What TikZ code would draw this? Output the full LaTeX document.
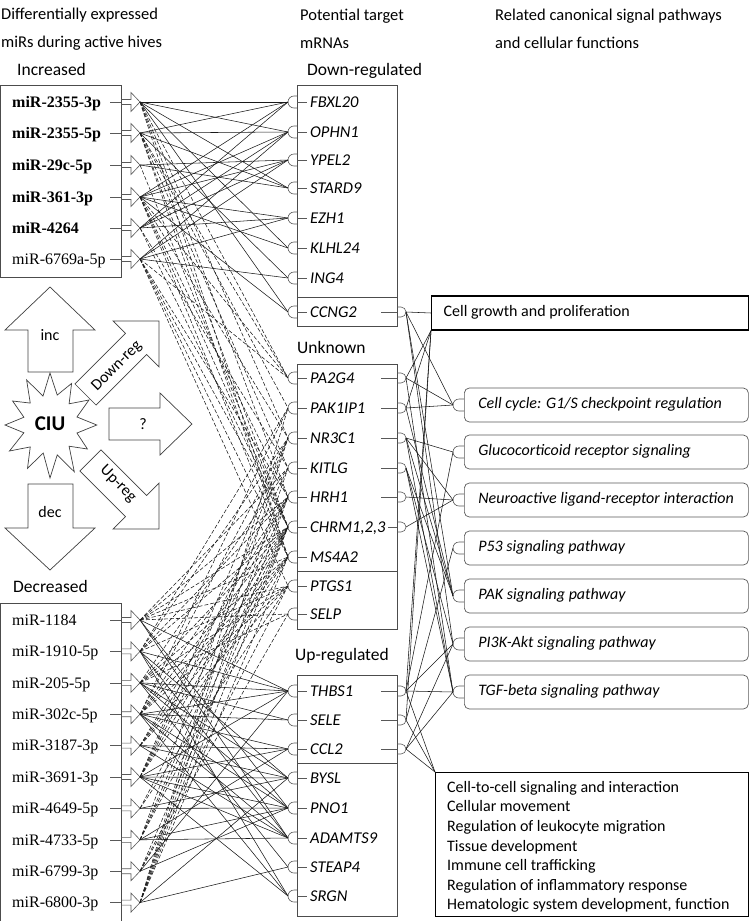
\documentclass[tikz,border=0pt]{standalone}
\usepackage{fontspec}
\setmainfont{Carlito}
\newfontfamily\mirfont{Liberation Serif}
\begin{document}
\begin{tikzpicture}[x=1pt, y=-1pt,
    hdr/.style={anchor=west, align=left, inner sep=0pt, font=\fontsize{16.5}{28}\selectfont},
    grouptxt/.style={anchor=west, inner sep=0pt, text height=11pt, text depth=0pt, font=\fontsize{17.5}{20}\selectfont},
    mir/.style={anchor=west, inner sep=0pt, text height=10.6pt, text depth=0pt, font=\mirfont\fontsize{16}{19}\selectfont},
    gene/.style={anchor=west, inner sep=0pt, text height=10.3pt, text depth=0pt, font=\fontsize{16.5}{19}\selectfont\itshape},
    listbox/.style={draw=black!70, line width=0.7pt},
    stub/.style={draw=black!65, line width=0.6pt},
    plug/.style={draw=black!65, line width=0.6pt},
    link/.style={draw=black!90, line width=0.55pt},
    dlink/.style={link, dash pattern=on 4pt off 2pt},
    pathbox/.style={draw=black!65, line width=0.7pt, rounded corners=5pt, anchor=west,
      minimum width=284, minimum height=34, inner xsep=14pt, text height=10.3pt, text depth=3pt,
      font=\fontsize{16}{19}\selectfont\itshape},
    growbox/.style={draw=black, line width=1.4pt, anchor=west, minimum width=317, minimum height=34,
      inner xsep=12pt, text height=10.3pt, text depth=3pt, font=\fontsize{16}{19}\selectfont},
    funcbox/.style={draw=black, line width=1.4pt, anchor=north west, minimum width=313, minimum height=144},
    functxt/.style={anchor=north west, align=left, inner sep=0pt, font=\fontsize{16}{19.6}\selectfont},
    bigarrow/.style={draw=black!75, line width=0.7pt, line join=miter},
    arrowtxt/.style={inner sep=0pt, font=\fontsize{16}{19}\selectfont}]
\useasboundingbox (0,0) rectangle (750,921);

% column headers
\node[hdr] (h-mir) at (1,29) {Differentially expressed\\miRs during active hives};
\node[hdr] (h-mrna) at (300,29) {Potential target\\mRNAs};
\node[hdr] (h-path) at (495,29) {Related canonical signal pathways\\and cellular functions};

% miR lists
\node[grouptxt] (l-inc) at (17,70) {Increased};
\node[grouptxt] (l-dec) at (13,587) {Decreased};
\draw[listbox] (0.5,85) rectangle (121,277);
\draw[listbox] (0.5,603) rectangle (121,930);
\foreach \n/\y/\t in {i1/102/\textbf{miR-2355-3p}, i2/133/\textbf{miR-2355-5p}, i3/165/\textbf{miR-29c-5p},
    i4/197/\textbf{miR-361-3p}, i5/228/\textbf{miR-4264}, i6/259/miR-6769a-5p,
    d1/620/miR-1184, d2/651.4/miR-1910-5p, d3/682.8/miR-205-5p, d4/714.2/miR-302c-5p,
    d5/745.6/miR-3187-3p, d6/777/miR-3691-3p, d7/808.4/miR-4649-5p, d8/839.8/miR-4733-5p,
    d9/871.2/miR-6799-3p, d10/902.6/miR-6800-3p}
{
  \node[mir] (t-\n) at (12,\y) {\t};
  \draw[stub] (110,\y) -- (121,\y);
  \draw[stub] (121,\y-2.5) -- (131,\y-2.5) -- (131,\y-9.5) -- (140,\y) -- (131,\y+9.5) -- (131,\y+2.5) -- (121,\y+2.5);
  \coordinate (\n) at (140,\y);
}

% mRNA lists
\node[grouptxt] (l-down) at (307,70) {Down-regulated};
\node[grouptxt] (l-unk) at (297,348) {Unknown};
\node[grouptxt] (l-up) at (295,655) {Up-regulated};
\draw[listbox] (297,85) rectangle (397,326);
\draw[listbox] (297,297) -- (397,297);
\draw[listbox] (297,364) rectangle (397,629);
\draw[listbox] (297,571) -- (397,571);
\draw[listbox] (297,675) rectangle (397,916);
\draw[listbox] (297,763) -- (397,763);
\foreach \n/\y/\t in {fbxl20/102/FBXL20, ophn1/132/OPHN1, ypel2/160/YPEL2, stard9/188/STARD9,
    ezh1/218/EZH1, klhl24/248/KLHL24, ing4/278/ING4, ccng2/312/CCNG2,
    pa2g4/378/PA2G4, pak1ip1/408/PAK1IP1, nr3c1/438/NR3C1, kitlg/468/KITLG, hrh1/497/HRH1,
    chrm/527/{CHRM1,2,3}, ms4a2/557/MS4A2, ptgs1/586/PTGS1, selp/614/SELP,
    thbs1/691/THBS1, sele/720/SELE, ccl2/749/CCL2, bysl/778/BYSL, pno1/808/PNO1,
    adamts9/838/ADAMTS9, steap4/867/STEAP4, srgn/896/SRGN}
{
  \node[gene] (g-\n) at (310,\y) {\t};
  \draw[plug] (297,\y) -- (307,\y);
  \draw[plug] (297,\y-6) -- (294,\y-6) arc[start angle=270, end angle=90, radius=6] -- (297,\y+6);
  \coordinate (s-\n) at (288,\y);
}
\foreach \n/\y/\x in {ccng2/312/381, pa2g4/378/381, pak1ip1/408/381, nr3c1/438/381, kitlg/468/381,
    hrh1/497/381, chrm/527/388, thbs1/691/381, sele/720/381, ccl2/749/381}
{
  \draw[plug] (\x,\y) -- (397,\y);
  \draw[plug] (397,\y-5) -- (401,\y-5) arc[start angle=-90, end angle=90, radius=5] -- (397,\y+5);
  \coordinate (p-\n) at (406,\y);
}

% pathways and functions
\node[growbox] (grow) at (431,313) {\makebox[293pt][l]{Cell growth and proliferation}};
\node[pathbox] (cyc) at (464,405) {\makebox[256pt][l]{Cell cycle: G1/S checkpoint regulation}};
\node[pathbox] (gluc) at (464,452) {\makebox[256pt][l]{Glucocorticoid receptor signaling}};
\node[pathbox] (neuro) at (464,500) {\makebox[256pt][l]{Neuroactive ligand-receptor interaction}};
\node[pathbox] (p53) at (464,548) {\makebox[256pt][l]{P53 signaling pathway}};
\node[pathbox] (pak) at (464,596) {\makebox[256pt][l]{PAK signaling pathway}};
\node[pathbox] (pi3k) at (464,644) {\makebox[256pt][l]{PI3K-Akt signaling pathway}};
\node[pathbox] (tgf) at (464,692) {\makebox[256pt][l]{TGF-beta signaling pathway}};
\foreach \n in {cyc, gluc, neuro, p53, pak, pi3k, tgf}
{
  \draw[plug] ([yshift=6pt]\n.west) -- ++(-5,0) arc[start angle=270, end angle=90, radius=6] -- ++(5,0);
  \coordinate (k-\n) at ([xshift=-11pt]\n.west);
}
\node[funcbox] (func) at (435,772) {};
\node[functxt] (func-txt) at (447,781) {Cell-to-cell signaling and interaction\\Cellular movement\\
  Regulation of leukocyte migration\\Tissue development\\Immune cell trafficking\\
  Regulation of inflammatory response\\Hematologic system development, function};

% CIU and its arrows
\draw[bigarrow] (50,287) -- (95,330) -- (73,330) -- (73,372) -- (28,372) -- (28,330) -- (5,330) -- cycle;
\node[arrowtxt] (a-inc) at (50,335) {inc};
\draw[bigarrow] (28,484) -- (73,484) -- (73,528) -- (95,528) -- (50,570) -- (5,528) -- (28,528) -- cycle;
\node[arrowtxt] (a-dec) at (50,512) {dec};
\draw[bigarrow] (109,408) -- (160,408) -- (160,393) -- (192,424) -- (160,455) -- (160,440) -- (109,440) -- cycle;
\node[arrowtxt] (a-unk) at (143,424) {?};
\begin{scope}[shift={(85.5,394.5)}, rotate=45]
  \draw[bigarrow] (0,-15) -- (71.5,-15) -- (71.5,-32.5) -- (104,0) -- (71.5,32.5) -- (71.5,15) -- (0,15) -- cycle;
\end{scope}
\node[arrowtxt, rotate=45] (a-down) at (117,366) {Down-reg};
\begin{scope}[shift={(90.4,460.4)}, rotate=-45]
  \draw[bigarrow] (0,-15) -- (64.5,-15) -- (64.5,-32.5) -- (97,0) -- (64.5,32.5) -- (64.5,15) -- (0,15) -- cycle;
\end{scope}
\node[arrowtxt, rotate=-45] (a-up) at (118,484) {Up-reg};
\draw[bigarrow] (96.8,425) \foreach \a/\r in {15/31, 30/48, 45/30, 60/54, 75/31, 90/53, 105/29, 120/50,
    135/31, 150/52, 165/30, 180/50, 195/30, 210/48, 225/31, 240/52, 255/30, 270/52, 285/31,
    300/48, 315/30, 330/50, 345/31} { -- ({50+0.9*\r*cos(\a)},{425+\r*sin(\a)}) } -- cycle;
\node[arrowtxt, font=\fontsize{21}{24}\selectfont\bfseries] (ciu) at (50,424) {CIU};

% miR to mRNA
\foreach \a/\b in {i1/s-fbxl20, i1/s-ophn1, i1/s-stard9, i1/s-klhl24, i1/s-ccng2,
    i2/s-fbxl20, i2/s-ophn1, i2/s-stard9, i2/s-ing4, i3/s-ypel2, i3/s-stard9,
    i4/s-fbxl20, i4/s-ophn1, i4/s-ypel2, i4/s-ezh1, i4/s-klhl24, i4/s-ccng2,
    i5/s-fbxl20, i5/s-ophn1, i5/s-ypel2, i5/s-ezh1, i6/s-ophn1, i6/s-ypel2, i6/s-ezh1, i6/s-ing4,
    d1/s-thbs1, d1/s-pno1, d1/s-adamts9, d2/s-thbs1, d2/s-bysl, d2/s-adamts9, d2/s-srgn,
    d3/s-thbs1, d3/s-sele, d3/s-bysl, d3/s-pno1, d3/s-steap4,
    d4/s-thbs1, d4/s-sele, d4/s-ccl2, d4/s-pno1, d4/s-adamts9, d4/s-srgn,
    d5/s-ccl2, d5/s-bysl, d5/s-adamts9, d6/s-thbs1, d6/s-ccl2, d6/s-bysl, d6/s-pno1, d6/s-adamts9, d6/s-srgn,
    d7/s-bysl, d7/s-pno1, d8/s-ccl2, d8/s-pno1, d8/s-adamts9, d9/s-thbs1, d9/s-pno1, d10/s-bysl, d10/s-steap4}
  \draw[link] (\a) -- (\b);
\foreach \a/\b in {i1/s-pa2g4, i1/s-nr3c1, i1/s-hrh1, i1/s-ms4a2,
    i2/s-pa2g4, i2/s-pak1ip1, i2/s-kitlg, i2/s-chrm, i2/s-ms4a2, i3/s-chrm,
    i4/s-pa2g4, i4/s-nr3c1, i4/s-hrh1, i4/s-chrm, i4/s-ms4a2, i5/s-kitlg, i5/s-chrm,
    i6/s-pa2g4, i6/s-hrh1, i6/s-chrm, i6/s-ms4a2, i6/s-ptgs1,
    d1/s-selp, d1/s-ptgs1, d1/s-ms4a2, d1/s-chrm, d1/s-hrh1, d1/s-kitlg,
    d2/s-ptgs1, d2/s-chrm, d2/s-hrh1, d2/s-nr3c1, d2/s-pak1ip1,
    d3/s-selp, d3/s-ptgs1, d3/s-ms4a2, d3/s-chrm, d3/s-kitlg,
    d4/s-ptgs1, d4/s-chrm, d4/s-hrh1, d4/s-nr3c1, d4/s-pak1ip1, d4/s-ms4a2,
    d5/s-ms4a2, d5/s-chrm, d5/s-hrh1, d5/s-ptgs1, d6/s-chrm, d6/s-hrh1, d6/s-kitlg, d6/s-nr3c1, d6/s-ms4a2,
    d7/s-ptgs1, d7/s-chrm, d8/s-chrm, d8/s-ms4a2, d8/s-hrh1, d8/s-nr3c1, d9/s-selp, d9/s-ptgs1, d9/s-chrm,
    d10/s-chrm, d10/s-ms4a2, d10/s-hrh1, d10/s-kitlg, d10/s-nr3c1, d10/s-pak1ip1}
  \draw[dlink] (\a) -- (\b);

% mRNA to pathways
\foreach \a/\b in {p-ccng2/grow.west, p-ccng2/k-cyc, p-ccng2/k-pak, p-ccng2/k-pi3k,
    p-pa2g4/grow.south west, p-pa2g4/k-cyc, p-pa2g4/k-tgf,
    p-pak1ip1/grow.south west, p-pak1ip1/k-cyc, p-pak1ip1/k-pak,
    p-nr3c1/k-gluc, p-nr3c1/k-neuro, p-nr3c1/k-pak, p-nr3c1/k-tgf,
    p-kitlg/k-pak, p-kitlg/k-pi3k, p-kitlg/k-tgf, p-hrh1/k-neuro, p-chrm/k-neuro,
    p-thbs1/grow.south west, p-thbs1/k-gluc, p-thbs1/k-pi3k, p-thbs1/k-tgf, p-thbs1/func.north west,
    p-sele/grow.south west, p-sele/k-p53, p-sele/func.north west,
    p-ccl2/k-pi3k, p-ccl2/k-tgf, p-ccl2/func.north west}
  \draw[link] (\a) -- (\b);
\end{tikzpicture}
\end{document}
